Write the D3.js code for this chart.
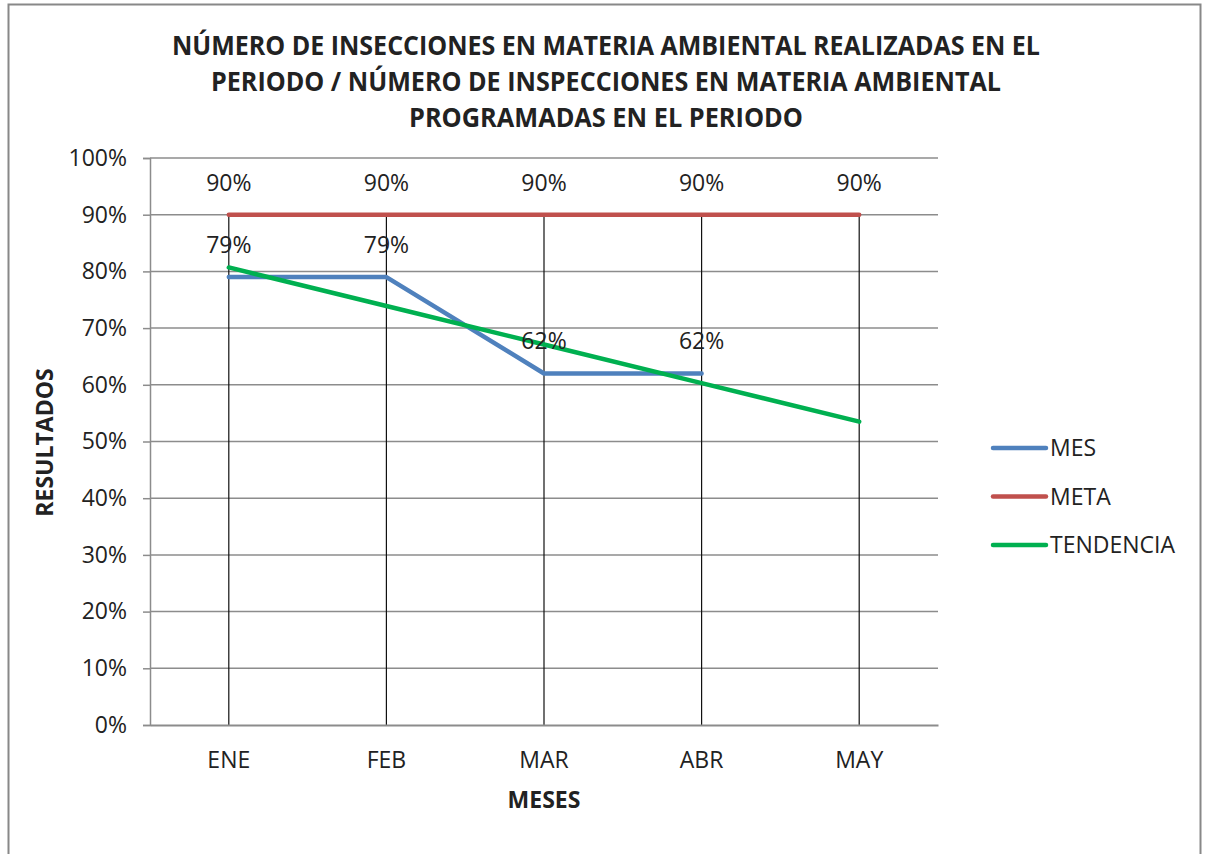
<!DOCTYPE html>
<html>
<head>
<meta charset="utf-8">
<script src="https://cdn.jsdelivr.net/npm/d3@7"></script>
<style>
  html, body { margin: 0; padding: 0; background: #fff; }
  svg { display: block; }
  text { font-family: "Open Sans", "Noto Sans", sans-serif; fill: #222; }
</style>
</head>
<body>
<script>
// Indicador mensual: inspecciones realizadas / programadas
const months = ["ENE", "FEB", "MAR", "ABR", "MAY"];
const mes = [0.79, 0.79, 0.62, 0.62, null];
const meta = [0.90, 0.90, 0.90, 0.90, 0.90];
const tendencia = [0.807, 0.739, 0.671, 0.603, 0.535];
const yTicks = [0, 0.1, 0.2, 0.3, 0.4, 0.5, 0.6, 0.7, 0.8, 0.9, 1.0];
const titleLines = [
  "NÚMERO DE INSECCIONES EN MATERIA AMBIENTAL REALIZADAS EN EL",
  "PERIODO / NÚMERO DE INSPECCIONES EN MATERIA AMBIENTAL",
  "PROGRAMADAS EN EL PERIODO"
];
const series = [
  { name: "MES", values: mes, color: "#4F81BD", labels: true },
  { name: "META", values: meta, color: "#C0504D", labels: true },
  { name: "TENDENCIA", values: tendencia, color: "#00B050", labels: false }
];

const W = 1206, H = 854;
const plot = { left: 150, right: 938, top: 158, bottom: 725 };
const FS = 23;

const svg = d3.select("body").append("svg").attr("width", W).attr("height", H);

// chart frame
svg.append("rect")
  .attr("x", 8.5).attr("y", 4.5).attr("width", 1192).attr("height", 880)
  .attr("fill", "#fff").attr("stroke", "#888").attr("stroke-width", 2);

// title
const titleW = [868, 790, 394];
const tg = svg.append("g");
titleLines.forEach((t, i) => {
  tg.append("text")
    .attr("x", 606).attr("y", 55 + i * 36)
    .attr("text-anchor", "middle")
    .attr("font-size", 26).attr("font-weight", "bold")
    .attr("textLength", titleW[i]).attr("lengthAdjust", "spacingAndGlyphs")
    .text(t);
});

const x = d3.scaleBand().domain(months).range([plot.left, plot.right]);
const cx = m => x(m) + x.bandwidth() / 2;
const y = d3.scaleLinear().domain([0, 1]).range([plot.bottom, plot.top]);

// y axis with percentage ticks
const yAxis = d3.axisLeft(y).tickValues(yTicks).tickFormat(d3.format(".0%"))
  .tickSize(7).tickPadding(16);
const yg = svg.append("g").attr("transform", `translate(${plot.left},0)`).call(yAxis);
yg.select(".domain").attr("stroke", "#8c8c8c").attr("stroke-width", 1.5);
yg.selectAll(".tick line").attr("stroke", "#8c8c8c").attr("stroke-width", 1.5);
yg.selectAll(".tick text").attr("font-size", FS).attr("fill", "#222")
  .attr("font-family", "'Open Sans', sans-serif");

// horizontal gridlines
svg.append("g").selectAll("line").data(yTicks.filter(d => d > 0)).join("line")
  .attr("x1", plot.left).attr("x2", plot.right)
  .attr("y1", d => y(d)).attr("y2", d => y(d))
  .attr("stroke", "#8c8c8c").attr("stroke-width", 1.5);

// drop lines from the highest series to the axis
svg.append("g").selectAll("line").data(months).join("line")
  .attr("x1", d => cx(d)).attr("x2", d => cx(d))
  .attr("y1", (d, i) => y(d3.max(series, s => s.values[i] ?? 0)))
  .attr("y2", plot.bottom)
  .attr("stroke", "#111").attr("stroke-width", 1.2);

// x axis
const xAxis = d3.axisBottom(x).tickSize(0).tickPadding(27);
const xg = svg.append("g").attr("transform", `translate(0,${plot.bottom})`).call(xAxis);
xg.select(".domain").attr("stroke", "#8c8c8c").attr("stroke-width", 2);
xg.selectAll(".tick text").attr("font-size", FS).attr("fill", "#222")
  .attr("font-family", "'Open Sans', sans-serif");

// axis titles
svg.append("text").attr("x", cx("MAR")).attr("y", 808)
  .attr("text-anchor", "middle").attr("font-size", FS).attr("font-weight", "bold")
  .text("MESES");
svg.append("text")
  .attr("transform", `translate(53,${(plot.top + plot.bottom) / 2 + 1}) rotate(-90)`)
  .attr("text-anchor", "middle").attr("font-size", FS).attr("font-weight", "bold")
  .text("RESULTADOS");

// series lines
const line = d3.line()
  .defined(d => d.v != null)
  .x(d => cx(d.m)).y(d => y(d.v));

series.forEach(s => {
  const pts = months.map((m, i) => ({ m, v: s.values[i] }));
  svg.append("path").datum(pts)
    .attr("d", line)
    .attr("fill", "none").attr("stroke", s.color)
    .attr("stroke-width", 4.5).attr("stroke-linejoin", "round").attr("stroke-linecap", "round");
});

// data labels
series.filter(s => s.labels).forEach(s => {
  svg.append("g").selectAll("text")
    .data(months.map((m, i) => ({ m, v: s.values[i] })).filter(d => d.v != null))
    .join("text")
    .attr("x", d => cx(d.m)).attr("y", d => y(d.v) - 24)
    .attr("text-anchor", "middle").attr("font-size", FS).attr("fill", "#222")
    .text(d => d3.format(".0%")(d.v));
});

// legend
const lg = svg.append("g");
series.forEach((s, i) => {
  const ly = 448 + i * 48.5;
  lg.append("line").attr("x1", 993).attr("x2", 1046).attr("y1", ly).attr("y2", ly)
    .attr("stroke", s.color).attr("stroke-width", 4.5).attr("stroke-linecap", "round");
  lg.append("text").attr("x", 1050).attr("y", ly + 8).attr("font-size", FS)
    .text(s.name);
});
</script>
</body>
</html>
